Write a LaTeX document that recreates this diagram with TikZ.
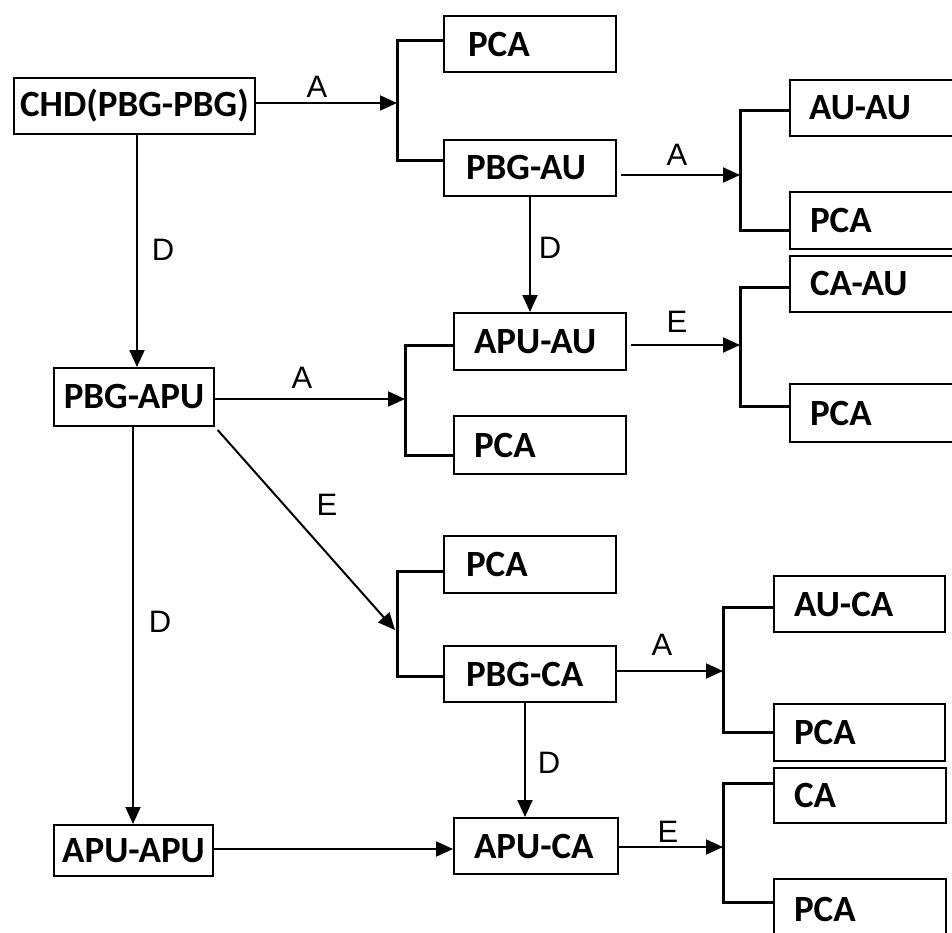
\documentclass[tikz,border=0pt]{standalone}
\usepackage{fontspec}
\setmainfont{Carlito}
\newfontfamily\lblfont{Liberation Sans}
\usetikzlibrary{arrows.meta}
\begin{document}
\begin{tikzpicture}[x=1pt,y=-1pt,
 boxbase/.style={draw, line width=2pt, inner ysep=0pt, anchor=north west,
   font=\bfseries\fontsize{37}{40}\selectfont},
 lbox/.style={boxbase, align=left},
 cbox/.style={boxbase, inner xsep=0pt, align=center},
 lbl/.style={font=\lblfont\fontsize{31}{34}\selectfont, inner sep=0pt},
 arr/.style={line width=2pt, -{Triangle[length=17pt,width=15pt]}},
 brk/.style={line width=3pt},
]
\useasboundingbox (0,0) rectangle (952,933);
\clip (0,0) rectangle (952,933);

% boxes
\node[cbox, minimum width=241pt, minimum height=56pt] (chd) at (13,77) {CHD(PBG-PBG)};
\node[lbox, minimum width=172pt, minimum height=56pt, inner xsep=24pt, text width=124pt] (pca1) at (443,15) {PCA};
\node[lbox, minimum width=172pt, minimum height=56pt, inner xsep=22pt, text width=128pt] (pbgau) at (443,139) {PBG-AU};
\node[lbox, minimum width=220pt, minimum height=56pt, inner xsep=19pt, text width=182pt] (auau) at (789,79) {AU-AU};
\node[lbox, minimum width=220pt, minimum height=57pt, inner xsep=20pt, text width=180pt] (pca2) at (789,191) {PCA};
\node[lbox, minimum width=220pt, minimum height=56pt, inner xsep=20pt, text width=180pt] (caau) at (789,255) {CA-AU};
\node[lbox, minimum width=220pt, minimum height=58pt, inner xsep=20pt, text width=180pt] (pca3) at (789,383) {PCA};
\node[lbox, minimum width=172pt, minimum height=57pt, inner xsep=20pt, text width=132pt] (apuau) at (453,312) {APU-AU};
\node[lbox, minimum width=172pt, minimum height=58pt, inner xsep=20pt, text width=132pt] (pca4) at (453,415) {PCA};
\node[cbox, minimum width=160pt, minimum height=58pt] (pbgapu) at (53,367) {PBG-APU};
\node[lbox, minimum width=172pt, minimum height=57pt, inner xsep=22pt, text width=128pt] (pca5) at (443,535) {PCA};
\node[lbox, minimum width=172pt, minimum height=56pt, inner xsep=22pt, text width=128pt] (pbgca) at (443,645) {PBG-CA};
\node[lbox, minimum width=171pt, minimum height=56pt, inner xsep=20pt, text width=131pt] (auca) at (773,575) {AU-CA};
\node[lbox, minimum width=171pt, minimum height=57pt, inner xsep=20pt, text width=131pt] (pca6) at (773,703) {PCA};
\node[lbox, minimum width=172pt, minimum height=55pt, inner xsep=20pt, text width=132pt] (ca) at (773,767) {CA};
\node[lbox, minimum width=172pt, minimum height=60pt, inner xsep=20pt, text width=132pt] (pca7) at (773,878) {PCA};
\node[cbox, minimum width=159pt, minimum height=51pt] (apuapu) at (53,824) {APU-APU};
\node[lbox, minimum width=164pt, minimum height=56pt, inner xsep=20pt, text width=124pt] (apuca) at (453,817) {APU-CA};

% bracket junctions
\coordinate (j1) at (397,103);
\coordinate (j2) at (740,175);
\coordinate (j3) at (405,399);
\coordinate (j4) at (740,345);
\coordinate (j5) at (395,630);
\coordinate (j6) at (723,671);
\coordinate (j7) at (723,847);

% brackets
\draw[brk] (pca1.west |- 0,41) -| (j1) |- (pbgau.west |- 0,161);
\draw[brk] (auau.west |- 0,111) -| (j2) |- (pca2.west |- 0,231);
\draw[brk] (apuau.west |- 0,345) -| (j3) |- (pca4.west |- 0,455);
\draw[brk] (caau.west |- 0,287) -| (j4) |- (pca3.west |- 0,406);
\draw[brk] (pca5.west |- 0,571) -- (397,571) -- (397,676) -- (pbgca.west |- 0,676);
\draw[brk] (auca.west |- 0,607) -| (j6) |- (pca6.west |- 0,732);
\draw[brk] (ca.west |- 0,783) -| (j7) |- (pca7.west |- 0,902);

% connectors
\draw[arr] (chd.east |- 0,103) -- (j1);
\draw[arr] (chd.south -| 137,0) -- (pbgapu.north -| 137,0);
\draw[arr] ([xshift=4pt]pbgau.east |- 0,175) -- (j2);
\draw[arr] (pbgau.south -| 530,0) -- (apuau.north -| 530,0);
\draw[arr] ([xshift=4pt]apuau.east |- 0,345) -- (j4);
\draw[arr] (pbgapu.east |- 0,399) -- (j3);
\draw[arr, shorten <=4pt] (pbgapu.south east) -- (j5);
\draw[arr] (pbgapu.south -| 133,0) -- (apuapu.north -| 133,0);
\draw[arr] (pbgca.east |- 0,671) -- (j6);
\draw[arr] (pbgca.south -| 525,0) -- (apuca.north -| 525,0);
\draw[arr] (apuapu.east |- 0,849) -- (apuca.west |- 0,849);
\draw[arr] (apuca.east |- 0,847) -- (j7);

% labels
\node[lbl] (la1) at (317,87) {A};
\node[lbl] (ld1) at (163,250) {D};
\node[lbl] (la2) at (677,155) {A};
\node[lbl] (ld2) at (550,248) {D};
\node[lbl] (le3) at (677,322) {E};
\node[lbl] (la4) at (302,378) {A};
\node[lbl] (le5) at (327,505) {E};
\node[lbl] (ld6) at (160,622) {D};
\node[lbl] (la7) at (662,645) {A};
\node[lbl] (ld8) at (549,763) {D};
\node[lbl] (le9) at (668,832) {E};
\end{tikzpicture}
\end{document}
